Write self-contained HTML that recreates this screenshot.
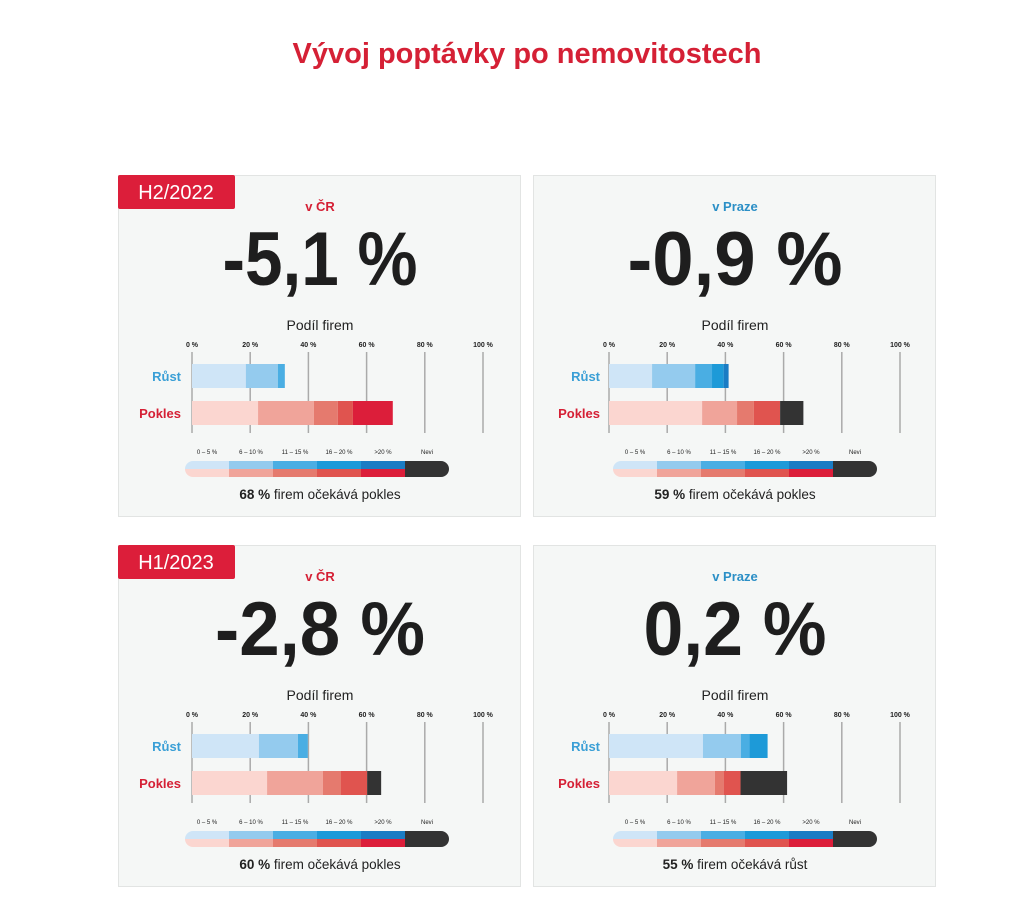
<!DOCTYPE html>
<html><head><meta charset="utf-8"><style>
html,body{margin:0;padding:0;background:#fff;}
svg{display:block;font-family:"Liberation Sans",sans-serif;}
</style></head><body>
<svg id="chart" width="1024" height="916" viewBox="0 0 1024 916">
<text x="527" y="63" text-anchor="middle" font-size="29" font-weight="bold" fill="#d52035">Vývoj poptávky po nemovitostech</text>
</svg>
<script>
const panelTitles = ["v ČR","v Praze","v ČR","v Praze"];
const panelValues = ["-5,1 %","-0,9 %","-2,8 %","0,2 %"];
const periodTags = ["H2/2022",null,"H1/2023",null];
const summaryShare = ["68 %","59 %","60 %","55 %"];
const summaryText = ["firem očekává pokles","firem očekává pokles","firem očekává pokles","firem očekává růst"];
const growthValues = [[18.5,11,2.4],[14.8,14.8,5.8,4,1.7],[23,13.4,3.4],[32.3,13,3,6.2]];
const declineValues = [[22.7,19.2,8.2,5.2,13.7],[32,12,5.8,9,0,8],[25.8,19.2,6.2,9,0,4.8],[23.4,13,3,5.8,0,16]];
const tickValues = [0,20,40,60,80,100];
const legendLabels = ["0 – 5 %","6 – 10 %","11 – 15 %","16 – 20 %",">20 %","Nevi"];
const blues = ["#cfe5f7","#94cbee","#4aaee3","#1d9ad8","#1a7cc4","#333"];
const reds = ["#fbd6d0","#f0a49a","#e57a6e","#e0544f","#dc1e3a","#333"];
const svg = document.getElementById('chart');
const NS = "http://www.w3.org/2000/svg";
function mk(tag, attrs, parent){const e=document.createElementNS(NS,tag);for(const k in attrs)e.setAttribute(k,attrs[k]);(parent||svg).appendChild(e);return e;}
const origins = [[118,175],[533,175],[118,545],[533,545]];
origins.forEach(([px,py],i)=>{
  const right = i%2===1;
  const g = mk('g',{});
  
  
  const bg = mk('rect',{x:px+0.5,y:py+0.5,width:402,height:341,fill:'#f5f7f6',stroke:'#e2e4e3'},g);
  
  
  const cx = px+202;
  if(periodTags[i]){
    const tr = mk('rect',{x:px,y:py,width:117,height:34,rx:2,fill:'#dc1e3a'},g);
    
    
    const tt = mk('text',{x:px+58,y:py+24,'text-anchor':'middle','font-size':20,fill:'#fff'},g);
    tt.textContent = periodTags[i];
    
    
  }
  const sub = mk('text',{x:cx,y:py+36,'text-anchor':'middle','font-size':13,'font-weight':'bold',fill:right?'#2b8fc6':'#d52035'},g);
  sub.textContent = panelTitles[i];
  
  
  const big = mk('text',{x:cx,y:py+110,'text-anchor':'middle','font-size':76,'font-weight':'bold',fill:'#1e1e1e',textLength:[195,215,210,183][i],lengthAdjust:'spacingAndGlyphs'},g);
  big.textContent = panelValues[i];
  
  
  const pf = mk('text',{x:cx,y:py+155,'text-anchor':'middle','font-size':14,fill:'#222'},g);
  pf.textContent = 'Podíl firem';
  
  
  const x0 = px+(right?76:74), sc = 2.91;
  const X = v => x0 + v*sc;
  tickValues.forEach(t=>{
    const l = mk('line',{x1:X(t),x2:X(t),y1:py+177,y2:py+258,stroke:'#aaa','stroke-width':1.5},g);
    
    
    const tl = mk('text',{x:X(t),y:py+172,'text-anchor':'middle','font-size':7,'font-weight':'bold',fill:'#222'},g);
    tl.textContent = t+' %';
    
    
  });
  [[growthValues[i],blues,'Růst','#3a9fd6',py+189],[declineValues[i],reds,'Pokles','#d52035',py+226]].forEach(([vals,cols,lab,lc,by])=>{
    const lt = mk('text',{x:px+(right?67:63),y:by+17,'text-anchor':'end','font-size':13,'font-weight':'bold',fill:lc},g);
    lt.textContent = lab;
    
    
    let acc = 0;
    vals.forEach((v,k)=>{
      if(v<=0)return;
      const r = mk('rect',{x:X(acc),y:by,width:v*sc,height:24,fill:cols[k]},g);
      
      
      acc += v;
    });
  });
  const lx = px+(right?80:67), lw = 44, ly = py+286;
  legendLabels.forEach((lab,k)=>{
    const t = mk('text',{x:lx+lw*k+lw/2,y:ly-7,'text-anchor':'middle','font-size':6,fill:'#222'},g);
    t.textContent = lab;
    
    
  });
  const clipId = 'lc'+i;
  const cp = mk('clipPath',{id:clipId},g);
  mk('rect',{x:lx,y:ly,width:lw*6,height:16,rx:8},cp);
  const lg = mk('g',{'clip-path':'url(#'+clipId+')'},g);
  
  
  for(let k=0;k<6;k++){
    const a = mk('rect',{x:lx+lw*k,y:ly,width:lw+0.5,height:8,fill:blues[k]},lg);
    
    
    const b = mk('rect',{x:lx+lw*k,y:ly+8,width:lw+0.5,height:8,fill:reds[k]},lg);
    
    
  }
  const st = mk('text',{x:cx,y:py+324,'text-anchor':'middle','font-size':13.5,fill:'#222'},g);
  const sb = mk('tspan',{'font-weight':'bold'},st);
  sb.textContent = summaryShare[i];
  const sr = mk('tspan',{},st);
  sr.textContent = ' '+summaryText[i];
  
  
});
</script>
</body></html>
